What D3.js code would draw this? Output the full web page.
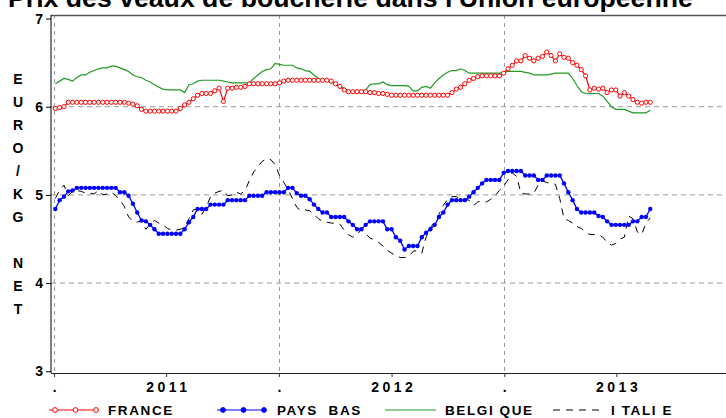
<!DOCTYPE html>
<html><head><meta charset="utf-8">
<script src="https://cdn.jsdelivr.net/npm/d3@7"></script>
<style>
body{margin:0;background:#fff;}
svg{display:block;font-family:"Liberation Sans",Arial,sans-serif;}
</style></head>
<body><svg id="c" width="726" height="418"></svg>
<script>
const title = "Prix des veaux de boucherie dans l'Union européenne";
const yLabel = ["E","U","R","O","/","K","G","","N","E","T"];
const yTicks = [3,4,5,6,7];
const yearStarts = ["2011-01-01","2012-01-01","2013-01-01"];
const yearLabels = ["2011","2012","2013"];
const firstWeek = "2011-01-03";
const seriesNames = ["FRANCE","PAYS  BAS","BELGI QUE","I TALI E"];

const france = [5.98,5.99,6.00,6.05,
 6.05,6.05,6.05,6.05,6.05,6.05,6.05,6.05,6.05,6.05,6.05,6.05,6.05,
 6.04,6.03,6.01,5.97,
 5.95,5.95,5.95,5.95,5.95,5.95,5.95,5.95,
 5.98,6.02,6.05,6.09,6.13,6.15,6.15,6.15,6.18,6.21,6.06,6.21,6.21,6.22,6.22,6.23,
 6.26,6.26,6.26,6.26,6.26,6.26,6.26,
 6.27,6.29,6.30,
 6.30,6.30,6.30,6.30,6.30,6.30,6.30,6.30,6.30,
 6.29,6.26,6.23,6.19,6.17,
 6.17,6.17,6.17,6.17,
 6.16,6.16,6.15,6.15,6.14,
 6.13,6.13,6.13,6.13,6.13,6.13,6.13,6.13,6.13,6.13,6.13,6.13,6.13,6.13,
 6.16,6.20,6.22,6.26,6.30,6.32,6.34,
 6.35,6.35,6.35,6.35,6.35,
 6.38,6.43,6.47,6.52,6.52,6.58,6.55,6.52,6.55,6.57,6.62,6.58,6.52,6.60,6.56,6.55,
 6.50,6.47,6.42,6.35,6.19,6.21,6.20,6.21,6.16,6.19,6.19,6.12,6.16,6.12,6.08,6.05,6.04,6.05,6.05];

const paysBas = [4.84,4.94,4.98,5.04,5.05,
 5.08,5.08,5.08,5.08,5.08,5.08,5.08,5.08,5.08,5.08,
 5.03,5.03,4.99,4.90,4.80,4.71,4.70,4.66,4.61,
 4.56,4.56,4.56,4.56,4.56,4.56,
 4.61,4.69,4.75,4.84,4.84,4.84,
 4.89,4.89,4.89,4.89,
 4.94,4.94,4.94,4.94,4.94,
 4.99,4.99,4.99,4.99,
 5.03,5.03,5.03,5.03,5.03,
 5.08,5.08,5.02,4.99,4.99,4.95,4.89,4.84,4.80,4.80,
 4.75,4.75,4.75,4.75,
 4.70,4.66,4.61,4.61,4.66,
 4.70,4.70,4.70,4.70,
 4.61,4.61,4.52,4.48,4.38,4.42,4.42,4.42,4.52,4.57,4.61,4.66,4.75,4.80,4.89,
 4.94,4.94,4.94,4.94,
 4.98,5.03,5.08,5.13,
 5.17,5.17,5.17,5.17,
 5.25,
 5.27,5.27,5.27,5.27,
 5.22,5.22,5.22,
 5.17,5.17,
 5.22,5.22,5.22,5.22,
 5.13,5.03,4.94,4.84,
 4.80,4.80,4.80,4.80,
 4.76,4.75,4.70,
 4.66,4.66,4.66,4.66,4.66,
 4.70,4.70,4.75,4.75,4.84];

const belgique = [6.26,6.29,6.32,6.31,6.29,6.33,6.36,6.36,6.39,6.41,6.43,6.44,6.44,6.46,6.46,6.44,6.42,6.40,6.36,6.34,
 6.33,6.30,6.28,6.25,6.22,6.20,6.19,6.19,6.19,6.19,6.16,6.25,6.26,6.29,6.30,6.30,6.30,6.30,6.30,6.29,
 6.28,6.27,6.27,6.27,6.27,6.27,6.32,6.36,6.40,6.42,6.43,6.49,6.48,6.47,6.47,6.47,6.44,6.43,6.41,6.40,
 6.36,6.32,6.30,6.29,6.27,6.26,6.23,6.21,6.18,6.18,6.18,6.18,6.19,6.25,6.26,6.26,6.28,6.25,6.24,6.24,
 6.24,6.24,6.23,6.18,6.18,6.22,6.23,6.21,6.27,6.32,6.36,6.39,6.41,6.41,6.43,6.41,6.38,6.38,6.38,6.38,
 6.38,6.38,6.38,6.38,6.39,6.40,6.40,6.40,6.40,6.39,6.38,6.36,6.36,6.36,6.36,6.37,6.38,6.38,6.38,6.38,
 6.32,6.24,6.17,6.15,6.15,6.15,6.15,6.12,6.06,6.00,5.97,5.97,5.97,5.95,5.93,5.93,5.93,5.93,5.96];

const italie = [4.96,5.05,5.11,4.99,5.04,5.05,5.04,5.02,5.02,5.01,5.05,5.00,5.01,5.03,4.99,4.94,4.87,4.75,4.70,4.69,
 4.71,4.61,4.67,4.71,4.68,4.66,4.62,4.60,4.60,4.61,4.63,4.73,4.83,4.84,4.78,4.86,4.98,5.02,5.04,5.05,
 4.99,5.00,5.03,5.01,5.05,5.16,5.26,5.32,5.38,5.41,5.40,5.34,5.22,5.14,5.06,4.96,4.86,4.82,4.83,4.82,
 4.78,4.73,4.70,4.69,4.68,4.68,4.67,4.60,4.55,4.52,4.55,4.61,4.56,4.51,4.49,4.46,4.42,4.37,4.34,4.31,
 4.29,4.29,4.30,4.36,4.37,4.34,4.52,4.63,4.69,4.78,4.88,4.95,4.98,4.98,4.95,4.95,4.94,4.88,4.92,4.93,
 4.92,4.95,4.99,5.05,5.10,5.17,5.25,5.21,5.02,5.01,5.01,5.02,5.11,5.16,5.14,5.13,5.12,4.96,4.73,4.71,
 4.68,4.64,4.62,4.58,4.55,4.55,4.55,4.52,4.46,4.43,4.45,4.50,4.52,4.76,4.73,4.58,4.55,4.68,4.74];

const svg = d3.select("#c");
const parse = d3.utcParse("%Y-%m-%d");
const t0 = parse(firstWeek);
const dates = france.map((_, i) => d3.utcDay.offset(t0, 7 * i));

const x = d3.scaleUtc().domain([parse("2010-12-27"), parse("2013-12-27")]).range([51, 726]);
const y = d3.scaleLinear().domain([2.98, 7.04]).range([373, 15]);

// title
const tt = svg.append("text").attr("x", 8).attr("y", 7)
  .attr("font-weight", "bold").attr("font-size", 20).attr("fill", "#000").text(title);
const tl = tt.node().getComputedTextLength();
tt.attr("font-size", 20 * 685 / tl);

// grid
const g = svg.append("g");
g.selectAll(".hg").data([4,5,6]).join("line")
  .attr("x1", 51).attr("x2", 726).attr("y1", d => y(d)).attr("y2", d => y(d))
  .attr("stroke", "#9a9a9a").attr("stroke-width", 1).attr("stroke-dasharray", "5,4");
g.selectAll(".vg").data(yearStarts.map(parse)).join("line")
  .attr("x1", d => Math.round(x(d)) + 0.5).attr("x2", d => Math.round(x(d)) + 0.5)
  .attr("y1", 15).attr("y2", 373)
  .attr("stroke", "#9a9a9a").attr("stroke-width", 1).attr("stroke-dasharray", "4,4");

// top frame
svg.append("line").attr("x1", 51).attr("x2", 726).attr("y1", 15.5).attr("y2", 15.5)
  .attr("stroke", "#555").attr("stroke-width", 1.5);

// y axis
const ya = svg.append("g").attr("transform", "translate(51,0)")
  .call(d3.axisLeft(y).tickValues(yTicks).tickSize(5).tickPadding(3).tickFormat(d3.format("d")));
ya.select(".domain").attr("d", "M0,15V373").attr("stroke", "#000");
ya.selectAll("text").attr("font-size", 14).attr("font-weight", "bold").attr("fill", "#000")
  .attr("font-family", "Liberation Sans, Arial, sans-serif");
ya.selectAll("line").attr("stroke", "#000");

// x axis
const mids = yearLabels.map(yv => parse(yv + "-07-02"));
const starts = yearStarts.map(parse);
const xTickVals = starts.concat(mids);
const xa = svg.append("g").attr("transform", "translate(0,373)")
  .call(d3.axisBottom(x).tickValues(xTickVals).tickSize(4).tickPadding(5)
    .tickFormat(d => { const k = mids.findIndex(m => +m === +d); return k >= 0 ? yearLabels[k] : "."; }));
xa.select(".domain").attr("d", "M51,0.5H726").attr("stroke", "#222").attr("stroke-width", 1.2);
xa.selectAll("line").attr("stroke", "#333");
xa.selectAll("text").attr("font-size", 14).attr("font-weight", "bold").attr("fill", "#000")
  .attr("font-family", "Liberation Sans, Arial, sans-serif")
  .attr("letter-spacing", d => mids.some(m => +m === +d) ? 3.5 : 0)
  .attr("dx", d => mids.some(m => +m === +d) ? 1.75 : 0);

// y label
svg.append("g").selectAll("text").data(yLabel).join("text")
  .attr("x", 18).attr("y", (d, i) => 84 + i * 23)
  .attr("text-anchor", "middle").attr("font-size", 14).attr("font-weight", "bold")
  .attr("fill", "#000").text(d => d);

// lines
const line = vals => d3.line().x((d, i) => x(dates[i])).y(d => y(d))(vals);
svg.append("path").attr("d", line(belgique)).attr("fill", "none").attr("stroke", "#229922").attr("stroke-width", 1.2);
svg.append("path").attr("d", line(italie)).attr("fill", "none").attr("stroke", "#000").attr("stroke-width", 1).attr("stroke-dasharray", "7,6");
svg.append("path").attr("d", line(paysBas)).attr("fill", "none").attr("stroke", "#0000ff").attr("stroke-width", 1.3);
svg.append("g").selectAll("circle").data(paysBas).join("circle")
  .attr("cx", (d, i) => x(dates[i])).attr("cy", d => y(d)).attr("r", 2.2).attr("fill", "#0000ff");
svg.append("path").attr("d", line(france)).attr("fill", "none").attr("stroke", "#ff0000").attr("stroke-width", 1.2);
svg.append("g").selectAll("circle").data(france).join("circle")
  .attr("cx", (d, i) => x(dates[i])).attr("cy", d => y(d)).attr("r", 2.1)
  .attr("fill", "#fff").attr("stroke", "#ff0000").attr("stroke-width", 1);

// legend
const ly = 410;
const leg = svg.append("g");
const legItems = [
  {name: seriesNames[0], x0: 49, x1: 99, tx: 108, color: "#ff0000", marker: "open", dash: null},
  {name: seriesNames[1], x0: 217, x1: 267, tx: 277, color: "#0000ff", marker: "fill", dash: null},
  {name: seriesNames[2], x0: 385, x1: 436, tx: 445, color: "#229922", marker: null, dash: null},
  {name: seriesNames[3], x0: 553, x1: 600, tx: 611, color: "#000", marker: null, dash: "7,6"}
];
legItems.forEach(it => {
  leg.append("line").attr("x1", it.x0).attr("x2", it.x1).attr("y1", ly).attr("y2", ly)
    .attr("stroke", it.color).attr("stroke-width", 1.2).attr("stroke-dasharray", it.dash);
  if (it.marker) {
    [0, 0.5, 1].forEach(f => {
      const cx = it.x0 + 6 + f * (it.x1 - it.x0 - 9);
      leg.append("circle").attr("cx", cx).attr("cy", ly).attr("r", 2.4)
        .attr("fill", it.marker === "open" ? "#fff" : it.color)
        .attr("stroke", it.color).attr("stroke-width", 1);
    });
  }
  leg.append("text").attr("x", it.tx).attr("y", ly + 5).attr("font-size", 13.5).attr("font-weight", "bold")
    .attr("letter-spacing", 1.6).attr("fill", "#000").attr("xml:space", "preserve").style("white-space", "pre").text(it.name);
});
</script></body></html>
